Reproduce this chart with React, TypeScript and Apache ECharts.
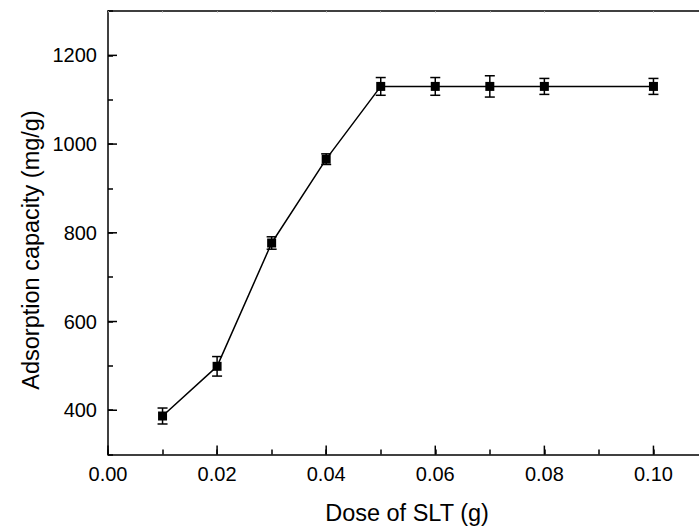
import React, { useEffect, useRef } from "react";
import * as echarts from "echarts";

const doses = [0.01, 0.02, 0.03, 0.04, 0.05, 0.06, 0.07, 0.08, 0.1];
const capacity = [387, 499, 777, 966, 1130, 1130, 1130, 1130, 1130];
const errors = [18, 22, 14, 12, 20, 20, 24, 18, 18];
const xMajorTicks = [0, 0.02, 0.04, 0.06, 0.08, 0.1];
const yMajorTicks = [400, 600, 800, 1000, 1200];

const FONT = "'Liberation Sans', Arial, Helvetica, sans-serif";

export default function App() {
  const ref = useRef<HTMLDivElement>(null);
  useEffect(() => {
    if (!ref.current) return;
    const chart = echarts.init(ref.current, undefined, { renderer: "svg" });
    const lineData = doses.map((d, i) => [d, capacity[i]]);
    const errData = doses.map((d, i) => [d, capacity[i] - errors[i], capacity[i] + errors[i]]);
    const axisLine = { show: true, onZero: false, lineStyle: { color: "#000", width: 1.5 } };
    const isMajorX = (v: number) => Math.round(v * 100) % 2 === 0;
    const isMajorY = (v: number) => Math.round(v) % 200 === 0 && v >= 400 && v <= 1200;
    const tickSeriesData = [
      ...xMajorTicks.map((v) => [v, 300, 0]),
      ...yMajorTicks.map((v) => [0, v, 1]),
    ];
    chart.setOption({
      animation: false,
      backgroundColor: "#fff",
      grid: { left: 108, top: 11, width: 600, height: 443.6, containLabel: false, outerBoundsMode: "none" },
      xAxis: [
        {
          type: "value", position: "bottom", min: 0, max: 0.11, interval: 0.01,
          axisLine,
          axisTick: { show: true, inside: true, length: 5, lineStyle: { color: "#000", width: 1.5 } },
          axisLabel: {
            show: true,
            formatter: (v: number) => (isMajorX(v) ? v.toFixed(2) : ""),
            fontSize: 20, color: "#000", fontFamily: FONT, margin: 9,
          },
          splitLine: { show: false },
        },
        {
          type: "value", position: "top", min: 0, max: 0.11, interval: 0.01,
          axisLine,
          axisTick: { show: true, inside: true, length: 1.5, lineStyle: { color: "#999", width: 1 } },
          axisLabel: { show: false },
          splitLine: { show: false },
        },
      ],
      yAxis: [
        {
          type: "value", position: "left", min: 300, max: 1300, interval: 100,
          axisLine,
          axisTick: { show: true, inside: true, length: 5, lineStyle: { color: "#000", width: 1.5 } },
          axisLabel: {
            show: true,
            formatter: (v: number) => (isMajorY(v) ? String(Math.round(v)) : ""),
            fontSize: 20, color: "#000", fontFamily: FONT, margin: 11,
          },
          splitLine: { show: false },
        },
      ],
      graphic: [
        {
          type: "text", x: 31, y: 250, rotation: Math.PI / 2,
          style: { text: "Adsorption capacity (mg/g)", fontSize: 23.5, fontFamily: FONT, fill: "#000", align: "center", verticalAlign: "middle" },
        },
        {
          type: "text", x: 407, y: 513,
          style: { text: "Dose of SLT (g)", fontSize: 23.5, fontFamily: FONT, fill: "#000", align: "center", verticalAlign: "middle" },
        },
      ],
      series: [
        {
          type: "line", xAxisIndex: 0, yAxisIndex: 0, data: lineData,
          symbol: "rect", symbolSize: 9, itemStyle: { color: "#000" },
          lineStyle: { color: "#000", width: 1.5 }, z: 3,
        },
        {
          type: "custom", xAxisIndex: 0, yAxisIndex: 0, data: errData, z: 4,
          renderItem: (params: any, api: any) => {
            const x = api.value(0);
            const lo = api.coord([x, api.value(1)]);
            const hi = api.coord([x, api.value(2)]);
            const hw = 5;
            const style = { stroke: "#000", lineWidth: 1.5 };
            return {
              type: "group",
              children: [
                { type: "line", shape: { x1: lo[0], y1: lo[1], x2: hi[0], y2: hi[1] }, style },
                { type: "line", shape: { x1: lo[0] - hw, y1: lo[1], x2: lo[0] + hw, y2: lo[1] }, style },
                { type: "line", shape: { x1: hi[0] - hw, y1: hi[1], x2: hi[0] + hw, y2: hi[1] }, style },
              ],
            };
          },
        },
        {
          // major ticks, placed through the axes' scales
          type: "custom", xAxisIndex: 0, yAxisIndex: 0, data: tickSeriesData, z: 5,
          clip: false,
          renderItem: (params: any, api: any) => {
            const p = api.coord([api.value(0), api.value(1)]);
            const kind = api.value(2);
            const style = { stroke: "#000", lineWidth: 1.5 };
            if (kind === 0) {
              return { type: "line", shape: { x1: p[0], y1: p[1], x2: p[0], y2: p[1] - 9 }, style };
            }
            return { type: "line", shape: { x1: p[0], y1: p[1], x2: p[0] + 9, y2: p[1] }, style };
          },
        },
      ],
    });
    return () => chart.dispose();
  }, []);
  return <div ref={ref} style={{ position: "fixed", left: 0, top: 0, width: 699, height: 527 }} />;
}
